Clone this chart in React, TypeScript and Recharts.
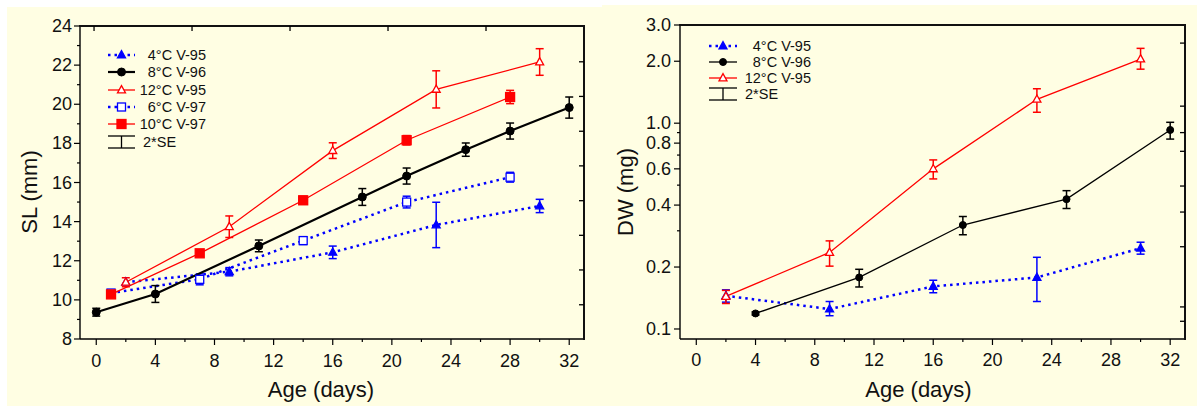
import React from 'react';
import { LineChart, Line, XAxis, YAxis, ErrorBar, CartesianGrid } from 'recharts';

const FONT = '"Liberation Sans", Arial, sans-serif';
const PANEL = '#FFFEE3';

// ---- SL (mm) panel ----
const slAge4 = [2, 9, 16, 23, 30];
const sl4 = [10.9, 11.44, 12.43, 13.83, 14.8];
const sl4Err = [0, 0.21, 0.32, 1.16, 0.34];

const slAge8 = [0, 4, 11, 18, 21, 25, 28, 32];
const sl8 = [9.37, 10.3, 12.76, 15.26, 16.33, 17.68, 18.63, 19.83];
const sl8Err = [0.2, 0.43, 0.3, 0.43, 0.41, 0.34, 0.41, 0.54];

const slAge12 = [2, 9, 16, 23, 30];
const sl12 = [10.9, 13.74, 17.63, 20.76, 22.16];
const sl12Err = [0.23, 0.55, 0.4, 0.95, 0.68];

const slAge6 = [1, 7, 14, 21, 28];
const sl6 = [10.35, 11.05, 13.03, 15.0, 16.27];
const sl6Err = [0.05, 0.28, 0.2, 0.3, 0.25];

const slAge10 = [1, 7, 14, 21, 28];
const sl10 = [10.28, 12.38, 15.09, 18.16, 20.37];
const sl10Err = [0.15, 0.15, 0.2, 0.24, 0.34];

const SL_MIN = 8;
const SL_MAX = 24;
const slTicks = [8, 9, 10, 11, 12, 13, 14, 15, 16, 17, 18, 19, 20, 21, 22, 23, 24];
// inward ticks on the plot frame (top and right edges)
const slFrameTop = [-0.15, 6.48, 13.11, 19.74, 26.37];
const slFrameRight = [9.75, 11.53, 13.3, 15.07, 16.85, 18.62, 20.4, 22.17];

// ---- DW (mg) panel, error bars as low / high ends ----
const dwAge4 = [2, 9, 16, 23, 30];
const dw4 = [0.145, 0.125, 0.161, 0.178, 0.247];
const dw4Lo = [0.135, 0.116, 0.15, 0.136, 0.231];
const dw4Hi = [0.155, 0.136, 0.1725, 0.223, 0.264];

const dwAge8 = [4, 11, 18, 25, 32];
const dw8 = [0.119, 0.178, 0.32, 0.4275, 0.927];
const dw8Lo = [0.117, 0.16, 0.287, 0.385, 0.837];
const dw8Hi = [0.121, 0.195, 0.352, 0.47, 1.01];

const dwAge12 = [2, 9, 16, 23, 30];
const dw12 = [0.144, 0.2355, 0.6, 1.306, 2.05];
const dw12Lo = [0.133, 0.202, 0.536, 1.13, 1.83];
const dw12Hi = [0.154, 0.268, 0.663, 1.47, 2.31];

const DW_MIN = 0.0894;
const DW_MAX = 3;
const dwMajor = [0.1, 0.2, 0.4, 0.6, 0.8, 1, 2, 3];
const dwTicks = [0.1, 0.2, 0.3, 0.4, 0.5, 0.6, 0.7, 0.8, 0.9, 1, 2, 3];
const dwFrameRight = [0.109, 0.128, 0.251, 0.37, 0.495, 0.73, 0.9, 1.21, 2.45];

const ageTicks = [0, 2, 4, 6, 8, 10, 12, 14, 16, 18, 20, 22, 24, 26, 28, 30, 32];
const AGE_MIN = -1.1;
const AGE_MAX = 33;

const symRows = (xs: number[], ys: number[], e: number[]) =>
  xs.map((x, i) => ({ x, y: ys[i], err: e[i] }));
const rangeRows = (xs: number[], ys: number[], lo: number[], hi: number[]) =>
  xs.map((x, i) => ({ x, y: ys[i], err: [ys[i] - lo[i], hi[i] - ys[i]] }));

type Shape = 'tri' | 'circle' | 'square';

const Marker = ({ shape, cx, cy, size, color, filled }: { shape: Shape; cx: number; cy: number; size: number; color: string; filled: boolean }) => {
  const fill = filled ? color : '#fff';
  if (shape === 'circle') return <circle cx={cx} cy={cy} r={size / 2} fill={fill} stroke={color} strokeWidth={1} />;
  if (shape === 'square')
    return <rect x={cx - size / 2} y={cy - size / 2} width={size} height={size} fill={fill} stroke={color} strokeWidth={1.3} />;
  const h = size * 0.9;
  return (
    <polygon
      points={`${cx},${cy - h * 0.6} ${cx - size / 2},${cy + h * 0.4} ${cx + size / 2},${cy + h * 0.4}`}
      fill={fill}
      stroke={color}
      strokeWidth={1.3}
    />
  );
};

const dotFn = (shape: Shape, size: number, color: string, filled: boolean) => (p: any) => {
  const { cx, cy } = p;
  if (cx == null || cy == null) return <g key={`e-${p.index}`} />;
  return (
    <g key={`d-${p.index}`}>
      <Marker shape={shape} cx={cx} cy={cy} size={size} color={color} filled={filled} />
    </g>
  );
};

interface SeriesDef {
  name: string;
  rows: { x: number; y: number; err: number | number[] }[];
  color: string;
  width: number;
  dash?: string;
  shape: Shape;
  size: number;
  filled: boolean;
}

const BLUE = '#0000FF';
const RED = '#FF0000';
const BLACK = '#000000';
const AXIS = { stroke: '#000', strokeWidth: 1.4 };

const slSeries: SeriesDef[] = [
  { name: '4°C V-95', rows: symRows(slAge4, sl4, sl4Err), color: BLUE, width: 2.5, dash: '2.5 4', shape: 'tri', size: 8, filled: true },
  { name: '6°C V-97', rows: symRows(slAge6, sl6, sl6Err), color: BLUE, width: 2.5, dash: '2.5 4', shape: 'square', size: 8, filled: false },
  { name: '8°C V-96', rows: symRows(slAge8, sl8, sl8Err), color: BLACK, width: 2.2, shape: 'circle', size: 8, filled: true },
  { name: '12°C V-95', rows: symRows(slAge12, sl12, sl12Err), color: RED, width: 1.3, shape: 'tri', size: 8, filled: false },
  { name: '10°C V-97', rows: symRows(slAge10, sl10, sl10Err), color: RED, width: 1.3, shape: 'square', size: 9, filled: true },
];
const slLegendOrder = ['4°C V-95', '8°C V-96', '12°C V-95', '6°C V-97', '10°C V-97'];

const dwSeries: SeriesDef[] = [
  { name: '4°C V-95', rows: rangeRows(dwAge4, dw4, dw4Lo, dw4Hi), color: BLUE, width: 2.5, dash: '2.5 4', shape: 'tri', size: 8, filled: true },
  { name: '8°C V-96', rows: rangeRows(dwAge8, dw8, dw8Lo, dw8Hi), color: BLACK, width: 1.3, shape: 'circle', size: 7, filled: true },
  { name: '12°C V-95', rows: rangeRows(dwAge12, dw12, dw12Lo, dw12Hi), color: RED, width: 1.3, shape: 'tri', size: 8, filled: false },
];
const dwLegendOrder = ['4°C V-95', '8°C V-96', '12°C V-95'];

const AgeTick = (dy: number) => (p: any) => {
  const { x, y, payload } = p;
  const major = payload.value % 4 === 0;
  return (
    <g>
      <line x1={x} x2={x} y1={y} y2={y + (major ? 6 : 3)} stroke="#000" strokeWidth={1.2} />
      {major && (
        <text x={x} y={y + dy} textAnchor="middle" fontSize={18} fontFamily={FONT} fill="#111">
          {payload.value}
        </text>
      )}
    </g>
  );
};

const SlTick = (p: any) => {
  const { x, y, payload } = p;
  const major = payload.value % 2 === 0;
  return (
    <g>
      <line x1={x} x2={x - (major ? 6 : 3)} y1={y} y2={y} stroke="#000" strokeWidth={1.2} />
      {major && (
        <text x={x - 8} y={y} dy={6} textAnchor="end" fontSize={18} fontFamily={FONT} fill="#111">
          {payload.value}
        </text>
      )}
    </g>
  );
};

const DwTick = (p: any) => {
  const { x, y, payload } = p;
  const major = dwMajor.some((m) => Math.abs(m - payload.value) < 1e-6);
  return (
    <g>
      <line x1={x} x2={x - (major ? 6 : 3)} y1={y} y2={y} stroke="#000" strokeWidth={1.2} />
      {major && (
        <text x={x - 9} y={y} dy={6} textAnchor="end" fontSize={18} fontFamily={FONT} fill="#111">
          {Number(payload.value).toFixed(1)}
        </text>
      )}
    </g>
  );
};

const xTitle = (dx: number) => (props: any) => {
  const vb = props.viewBox;
  return (
    <text x={vb.x + vb.width / 2 + dx} y={vb.y + 58} textAnchor="middle" fontSize={22} fontFamily={FONT} fill="#111">
      Age (days)
    </text>
  );
};

// frame edges through the library grid: one line at the plot top, one at the plot right
const topEdge = (p: any) => [p.offset.top];
const rightEdge = (p: any) => [p.offset.left + p.offset.width];

// plot box of each panel follows from the margins and axis sizes given to LineChart
interface Box { left: number; top: number; width: number; height: number }
const SL_BOX: Box = { left: 13 + 60, top: 19, width: 595 - 73 - 18, height: 399 - 19 - 67 };
const DW_BOX: Box = { left: 18 + 60, top: 20, width: 595 - 78 - 12, height: 401 - 20 - 67 };

// top and right edges of the frame, with short inward ticks
const Frame = ({ box, w, h, topTicks, rightTicks, yFrac }: { box: Box; w: number; h: number; topTicks: number[]; rightTicks: number[]; yFrac: (v: number) => number }) => {
  const right = box.left + box.width;
  const px = (v: number) => box.left + ((v - AGE_MIN) / (AGE_MAX - AGE_MIN)) * box.width;
  const py = (v: number) => box.top + (1 - yFrac(v)) * box.height;
  return (
    <svg width={w} height={h} style={{ position: 'absolute', left: 0, top: 0, zIndex: 5, pointerEvents: 'none' }}>
      <rect x={box.left - 1} y={box.top - 1} width={box.width + 2} height={2} fill="#111" />
      <rect x={right - 1} y={box.top - 1} width={2} height={box.height + 2} fill="#111" />
      {topTicks.map((t) => (
        <line key={`t${t}`} x1={px(t)} x2={px(t)} y1={box.top} y2={box.top + 5} stroke="#000" strokeWidth={1.3} />
      ))}
      {rightTicks.map((t) => (
        <line key={`r${t}`} x1={right} x2={right - 5} y1={py(t)} y2={py(t)} stroke="#000" strokeWidth={1.3} />
      ))}
    </svg>
  );
};

const slFrac = (v: number) => (v - SL_MIN) / (SL_MAX - SL_MIN);
const dwFrac = (v: number) => Math.log(v / DW_MIN) / Math.log(DW_MAX / DW_MIN);

const Legend = ({ series, order, x0, x1, textEnd, seStart, rows }: { series: SeriesDef[]; order: string[]; x0: number; x1: number; textEnd: number; seStart: number; rows: number[] }) => {
  const mid = (x0 + x1) / 2;
  const seY = rows[order.length];
  return (
    <svg width={230} height={160} style={{ position: 'absolute', left: 0, top: 0, zIndex: 6 }}>
      {order.map((name, i) => {
        const s = series.find((d) => d.name === name)!;
        const y = rows[i];
        return (
          <g key={name}>
            <line x1={x0} x2={x1} y1={y} y2={y} stroke={s.color} strokeWidth={s.width} strokeDasharray={s.dash} />
            <Marker shape={s.shape} cx={mid} cy={y} size={s.size} color={s.color} filled={s.filled} />
            <text x={textEnd} y={y} dy={5} textAnchor="end" fontSize={14.5} fontFamily={FONT} fill="#111">
              {name}
            </text>
          </g>
        );
      })}
      <g>
        <line x1={x0} x2={x1} y1={seY - 6} y2={seY - 6} stroke="#000" strokeWidth={1.3} />
        <line x1={x0} x2={x1} y1={seY + 6} y2={seY + 6} stroke="#000" strokeWidth={1.3} />
        <line x1={mid} x2={mid} y1={seY - 6} y2={seY + 6} stroke="#000" strokeWidth={1.3} />
        <text x={seStart} y={seY} dy={5} fontSize={14.5} fontFamily={FONT} fill="#111">
          2*SE
        </text>
      </g>
    </svg>
  );
};

const renderSeries = (series: SeriesDef[]) =>
  series.map((s) => (
    <Line
      key={s.name}
      data={s.rows}
      dataKey="y"
      type="linear"
      stroke={s.color}
      strokeWidth={s.width}
      strokeDasharray={s.dash}
      dot={dotFn(s.shape, s.size, s.color, s.filled)}
      activeDot={false}
      isAnimationActive={false}
    >
      <ErrorBar dataKey="err" direction="y" width={4} stroke={s.color} strokeWidth={1.5} />
    </Line>
  ));

const SlChart = () => (
  <div style={{ position: 'absolute', left: 7, top: 7, width: 595, height: 399, background: PANEL }}>
    <LineChart width={595} height={399} margin={{ top: 19, right: 18, left: 13, bottom: 37 }}>
      <CartesianGrid
        stroke="#000"
        strokeWidth={1.5}
        horizontalCoordinatesGenerator={topEdge}
        verticalCoordinatesGenerator={rightEdge}
      />
      <XAxis
        dataKey="x"
        type="number"
        domain={[AGE_MIN, AGE_MAX]}
        ticks={ageTicks}
        interval={0}
        allowDataOverflow
        tickSize={0}
        tickMargin={0}
        tickLine={false}
        tick={AgeTick(28)}
        height={30}
        axisLine={AXIS}
        label={{ content: xTitle(-11) }}
      />
      <YAxis
        type="number"
        domain={[SL_MIN, SL_MAX]}
        ticks={slTicks}
        interval={0}
        allowDataOverflow
        width={60}
        tickSize={0}
        tickMargin={0}
        tickLine={false}
        tick={SlTick}
        axisLine={AXIS}
      />
      {renderSeries(slSeries)}
    </LineChart>
    <Frame box={SL_BOX} w={595} h={399} topTicks={slFrameTop} rightTicks={slFrameRight} yFrac={slFrac} />
    <svg width={60} height={399} style={{ position: 'absolute', left: 0, top: 0 }}>
      <text x={22} y={185} transform="rotate(-90, 22, 185)" textAnchor="middle" dominantBaseline="central" fontSize={22} fontFamily={FONT} fill="#111">
        SL (mm)
      </text>
    </svg>
    <Legend series={slSeries} order={slLegendOrder} x0={101} x1={128} textEnd={199} seStart={136} rows={[48, 65, 83, 100, 117, 135]} />
  </div>
);

const DwChart = () => (
  <div style={{ position: 'absolute', left: 602, top: 5, width: 595, height: 401, background: PANEL }}>
    <LineChart width={595} height={401} margin={{ top: 20, right: 12, left: 18, bottom: 37 }}>
      <CartesianGrid
        stroke="#000"
        strokeWidth={1.5}
        horizontalCoordinatesGenerator={topEdge}
        verticalCoordinatesGenerator={rightEdge}
      />
      <XAxis
        dataKey="x"
        type="number"
        domain={[AGE_MIN, AGE_MAX]}
        ticks={ageTicks}
        interval={0}
        allowDataOverflow
        tickSize={0}
        tickMargin={0}
        tickLine={false}
        tick={AgeTick(27)}
        height={30}
        axisLine={AXIS}
        label={{ content: xTitle(-14) }}
      />
      <YAxis
        type="number"
        scale="log"
        domain={[DW_MIN, DW_MAX]}
        ticks={dwTicks}
        interval={0}
        allowDataOverflow
        width={60}
        tickSize={0}
        tickMargin={0}
        tickLine={false}
        tick={DwTick}
        axisLine={AXIS}
      />
      {renderSeries(dwSeries)}
    </LineChart>
    <Frame box={DW_BOX} w={595} h={401} topTicks={[]} rightTicks={dwFrameRight} yFrac={dwFrac} />
    <svg width={60} height={401} style={{ position: 'absolute', left: 0, top: 0 }}>
      <text x={23} y={187} transform="rotate(-90, 23, 187)" textAnchor="middle" dominantBaseline="central" fontSize={22} fontFamily={FONT} fill="#111">
        DW (mg)
      </text>
    </svg>
    <Legend series={dwSeries} order={dwLegendOrder} x0={107} x1={135} textEnd={209} seStart={143} rows={[41, 57, 73, 89]} />
  </div>
);

export default function App() {
  return (
    <div style={{ position: 'absolute', left: 0, top: 0, width: 1197, height: 406, background: '#fff', overflow: 'hidden' }}>
      <SlChart />
      <DwChart />
    </div>
  );
}
